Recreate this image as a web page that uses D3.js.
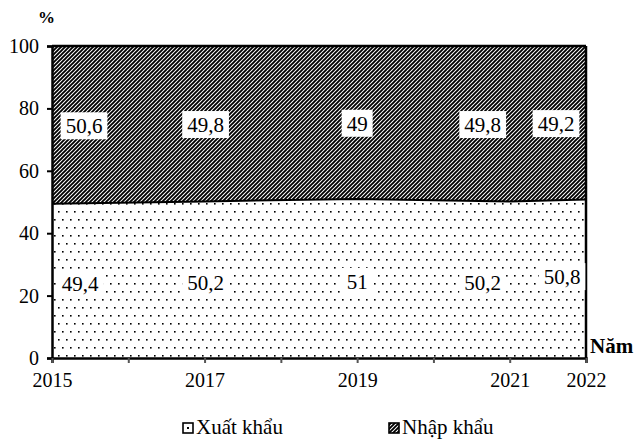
<!DOCTYPE html>
<html>
<head>
<meta charset="utf-8">
<script src="https://cdn.jsdelivr.net/npm/d3@7"></script>
<style>
  body { margin: 0; background: #fff; }
</style>
</head>
<body>
<svg id="chart" width="642" height="443" font-family="'Liberation Serif', 'Times New Roman', serif"></svg>
<script>
// data
var years = [2015, 2017, 2019, 2021, 2022];
var xuatKhau = [49.4, 50.2, 51, 50.2, 50.8];
var nhapKhau = [50.6, 49.8, 49, 49.8, 49.2];
var yTicks = [0, 20, 40, 60, 80, 100];
var xTickYears = [2015, 2016, 2017, 2018, 2019, 2020, 2021, 2022];
var seriesNames = ["Xuất khẩu", "Nhập khẩu"];

var FONT = "'Liberation Serif', 'Times New Roman', serif";
var svg = d3.select("#chart");

var x = d3.scaleLinear().domain([2015, 2022]).range([52, 586]);
var y = d3.scaleLinear().domain([0, 100]).range([358, 46]);

// patterns
var defs = svg.append("defs");
var dots = defs.append("pattern")
    .attr("id", "dots")
    .attr("patternUnits", "userSpaceOnUse")
    .attr("width", 8).attr("height", 16);
dots.append("rect").attr("width", 8).attr("height", 16).attr("fill", "#fff");
dots.append("rect").attr("x", 2).attr("y", 3).attr("width", 1.6).attr("height", 1.6).attr("fill", "#000");
dots.append("rect").attr("x", 6).attr("y", 11).attr("width", 1.6).attr("height", 1.6).attr("fill", "#000");

var hatch = defs.append("pattern")
    .attr("id", "hatch")
    .attr("patternUnits", "userSpaceOnUse")
    .attr("width", 4).attr("height", 4);
hatch.append("rect").attr("width", 4).attr("height", 4).attr("fill", "#fff");
hatch.append("path")
    .attr("d", "M-1,1 l2,-2 M0,4 l4,-4 M3,5 l2,-2")
    .attr("stroke", "#000")
    .attr("stroke-width", 1.9);

var rows = years.map(function(yr, i) {
    return { year: yr, xk: xuatKhau[i], nk: nhapKhau[i] };
});

var areaXk = d3.area()
    .x(function(d) { return x(d.year); })
    .y0(function(d) { return y(0); })
    .y1(function(d) { return y(d.xk); });

var areaNk = d3.area()
    .x(function(d) { return x(d.year); })
    .y0(function(d) { return y(d.xk); })
    .y1(function(d) { return y(d.xk + d.nk); });

svg.append("path").datum(rows).attr("d", areaNk).attr("fill", "url(#hatch)");
svg.append("path").datum(rows).attr("d", areaXk).attr("fill", "url(#dots)");

// boundary line between the two areas
svg.append("path").datum(rows)
    .attr("d", d3.line().x(function(d) { return x(d.year); }).y(function(d) { return y(d.xk); }))
    .attr("fill", "none")
    .attr("stroke", "#000")
    .attr("stroke-width", 2);

// top and right frame
svg.append("line").attr("x1", x(2015)).attr("x2", x(2022)).attr("y1", y(100)).attr("y2", y(100))
    .attr("stroke", "#000").attr("stroke-width", 2.5);
svg.append("line").attr("x1", x(2022)).attr("x2", x(2022)).attr("y1", y(100)).attr("y2", y(0))
    .attr("stroke", "#000").attr("stroke-width", 2.5);

// axes
var yAxis = d3.axisLeft(y).tickValues(yTicks).tickSize(5).tickPadding(8);
var gy = svg.append("g").attr("transform", "translate(" + x(2015) + ",0)").call(yAxis);
gy.attr("font-family", FONT).attr("font-size", 20);
gy.select(".domain").attr("stroke-width", 2.5);
gy.selectAll(".tick line").attr("stroke-width", 2);
gy.selectAll(".tick text").attr("fill", "#000");

var xAxis = d3.axisBottom(x).tickValues(xTickYears).tickSize(5).tickPadding(10)
    .tickFormat(function(d) { return years.indexOf(d) >= 0 ? d : ""; });
var gx = svg.append("g").attr("transform", "translate(0," + y(0) + ")").call(xAxis);
gx.attr("font-family", FONT).attr("font-size", 20);
gx.select(".domain").attr("stroke-width", 2.5);
gx.selectAll(".tick line").attr("stroke", "#555").attr("stroke-width", 2);
gx.selectAll(".tick text").attr("fill", "#000");

svg.append("text").attr("x", 38).attr("y", 23).text("%")
    .attr("font-size", 17).attr("font-weight", "bold");
svg.append("text").attr("x", 590).attr("y", 353).text("Năm")
    .attr("font-size", 21).attr("font-weight", "bold");

// value labels with white boxes
var labelShiftImport = [32, 1, 0, -27, -30];
var labelShiftExport = [28, 1, 0, -27, -24];
var labelLiftExport = [0, 0, 0, 0, 5];

function addLabel(cx, cy, txt) {
    var g = svg.append("g");
    var t = g.append("text")
        .attr("x", cx).attr("y", cy)
        .attr("text-anchor", "middle")
        .attr("dy", "0.35em")
        .attr("font-size", 21)
        .text(txt);
    var bb = t.node().getBBox();
    g.insert("rect", "text")
        .attr("x", bb.x - 5).attr("y", bb.y - 2)
        .attr("width", bb.width + 10).attr("height", bb.height + 3)
        .attr("fill", "#fff");
}

function fmt(v) { return String(v).replace(".", ","); }

rows.forEach(function(d, i) {
    addLabel(x(d.year) + labelShiftImport[i], y(d.xk + d.nk / 2) + 1, fmt(d.nk));
    addLabel(x(d.year) + labelShiftExport[i], y(d.xk / 2) + 3 - labelLiftExport[i], fmt(d.xk));
});

// legend
var legendX = [182, 388];
var lg = svg.append("g");
seriesNames.forEach(function(name, i) {
    var item = lg.append("g").attr("transform", "translate(" + legendX[i] + ",422)");
    if (i === 0) {
        item.append("rect").attr("x", 1).attr("y", 1).attr("width", 10).attr("height", 10)
            .attr("fill", "#fff").attr("stroke", "#000").attr("stroke-width", 1.6);
        item.append("rect").attr("x", 5).attr("y", 5).attr("width", 2).attr("height", 2).attr("fill", "#000");
    } else {
        item.append("rect").attr("x", 1).attr("y", 1).attr("width", 10).attr("height", 10)
            .attr("fill", "url(#hatch)").attr("stroke", "#000").attr("stroke-width", 1.6);
    }
    item.append("text").attr("x", 14).attr("y", 12).text(name).attr("font-size", 21);
});
</script>
</body>
</html>
